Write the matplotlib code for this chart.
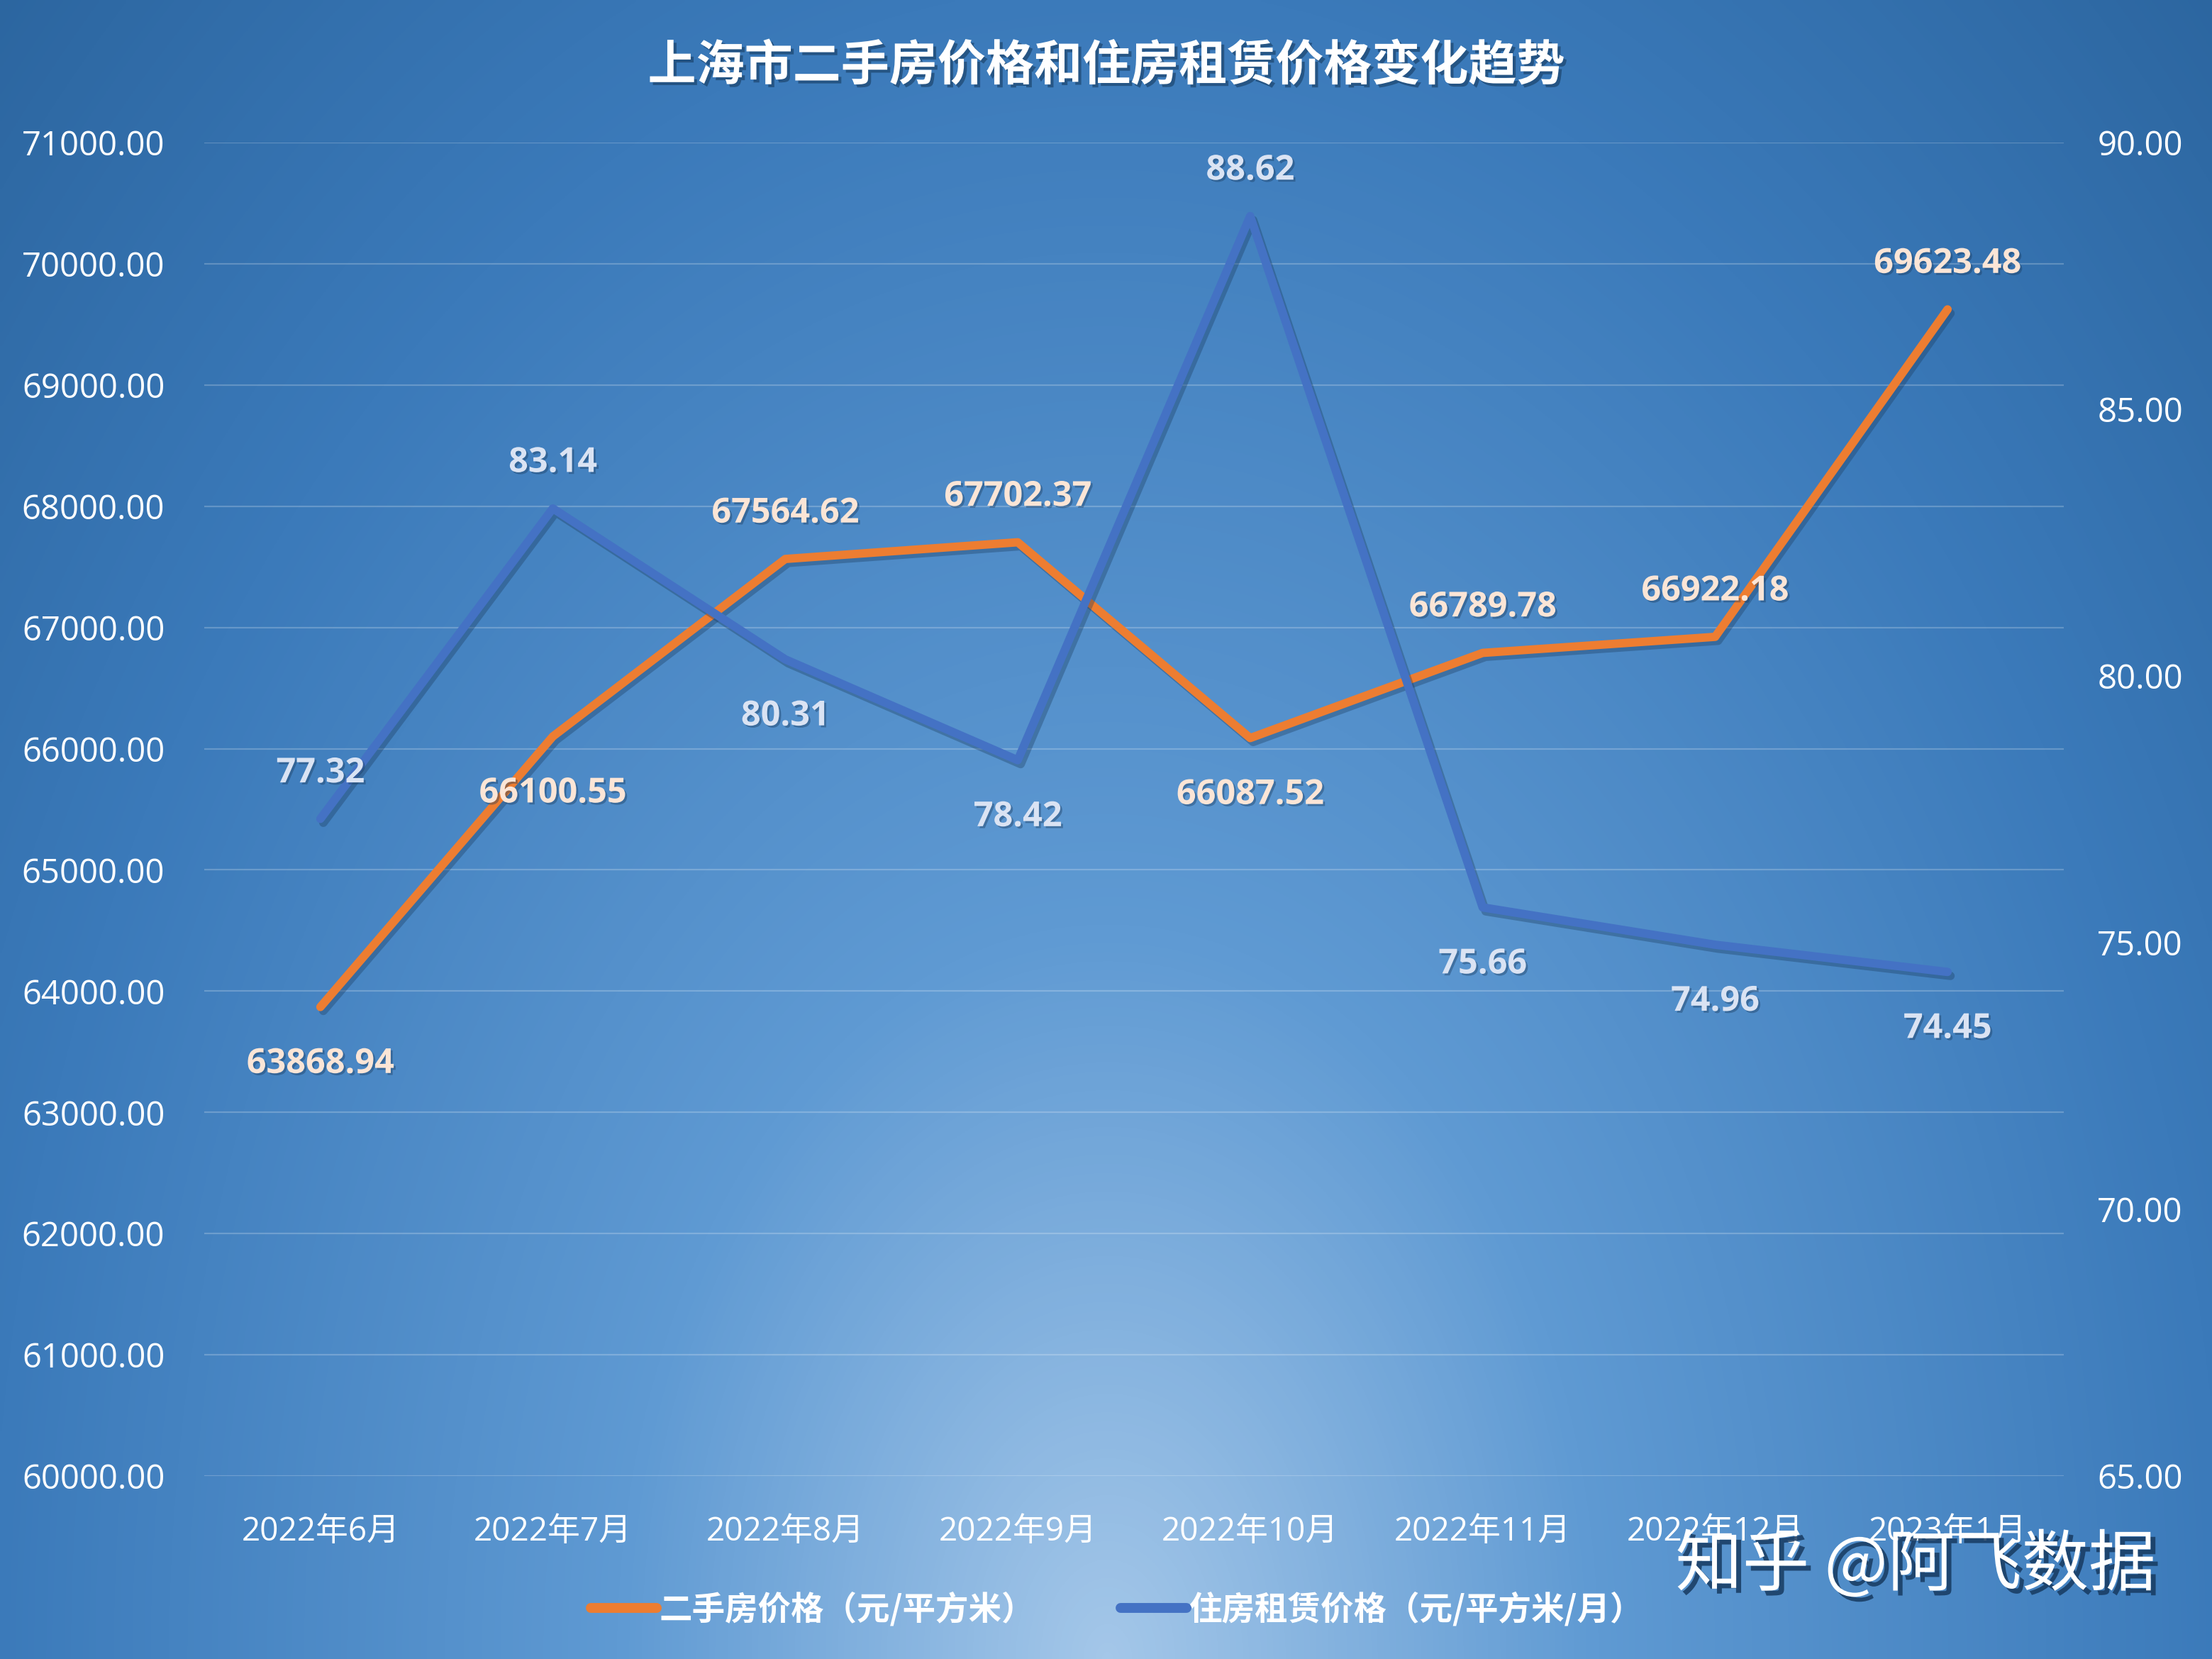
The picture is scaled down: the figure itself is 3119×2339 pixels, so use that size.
import numpy as np
import matplotlib
matplotlib.use("Agg")
import matplotlib.pyplot as plt
import matplotlib.patheffects as pe
from matplotlib.colors import LinearSegmentedColormap
from matplotlib.lines import Line2D

plt.rcParams['font.family'] = ['Open Sans', 'Noto Sans CJK SC', 'DejaVu Sans']

# data
months = ['2022年6月', '2022年7月', '2022年8月', '2022年9月',
          '2022年10月', '2022年11月', '2022年12月', '2023年1月']
house_price = [63868.94, 66100.55, 67564.62, 67702.37,
               66087.52, 66789.78, 66922.18, 69623.48]
rent_price = [77.32, 83.14, 80.31, 78.42, 88.62, 75.66, 74.96, 74.45]
# label above (+1) or below (-1) the point
house_label_side = [-1, -1, 1, 1, -1, 1, 1, 1]
rent_label_side = [1, 1, -1, -1, 1, -1, -1, -1]

title = '上海市二手房价格和住房租赁价格变化趋势'
house_name = '二手房价格（元/平方米）'
rent_name = '住房租赁价格（元/平方米/月）'

ORANGE = '#ED7D31'
BLUE = '#4472C4'

fig = plt.figure(figsize=(31.19, 23.39), dpi=100)

# radial gradient background, lightest at bottom centre
bg = fig.add_axes([0, 0, 1, 1], zorder=-10)
h, w = 470, 624
yy, xx = np.mgrid[0:h, 0:w]
r = np.sqrt(((xx - w / 2) / (w / 2)) ** 2 + ((yy - h) / h) ** 2)
cmap = LinearSegmentedColormap.from_list(
    'bg', [(0.0, '#a4c7e9'), (0.31, '#5f9ad3'), (0.71, '#3b7aba'), (1.0, '#2c66a0')])
bg.imshow(r / 1.42, cmap=cmap, vmin=0, vmax=1, aspect='auto', interpolation='bilinear')
bg.axis('off')

ax = fig.add_axes([0.0923, 0.1103, 0.8407, 0.8038])
ax.set_facecolor('none')
ax2 = ax.twinx()

x = np.arange(len(months))
shadow = [pe.SimpleLineShadow(offset=(3, -4), shadow_color='#1a3a5c', alpha=0.35),
          pe.Normal()]

ax.plot(x, house_price, color=ORANGE, lw=8.5, solid_capstyle='round',
        solid_joinstyle='round', path_effects=shadow, zorder=3)
ax2.plot(x, rent_price, color=BLUE, lw=8.5, solid_capstyle='round',
         solid_joinstyle='round', path_effects=shadow, zorder=3)

ax.set_xlim(-0.5, len(months) - 0.5)
ax.set_ylim(60000, 71000)
ax.set_yticks(np.arange(60000, 71001, 1000))
ax2.set_ylim(65, 90)
ax2.set_yticks(np.arange(65, 90.1, 5))
ax.yaxis.set_major_formatter(matplotlib.ticker.FormatStrFormatter('%.2f'))
ax2.yaxis.set_major_formatter(matplotlib.ticker.FormatStrFormatter('%.2f'))
ax.set_xticks(x)
ax.set_xticklabels(months)

ax.grid(axis='y', color='white', alpha=0.22, lw=1.6)
ax.set_axisbelow(True)
for a in (ax, ax2):
    for s in a.spines.values():
        s.set_visible(False)
ax.tick_params(axis='y', length=0, labelsize=34, labelcolor='white', pad=40)
ax.tick_params(axis='x', length=0, labelsize=33, labelcolor='white', pad=40)
ax2.tick_params(axis='y', length=0, labelsize=34, labelcolor='white', pad=34)

txt_shadow = [pe.withSimplePatchShadow(offset=(2, -2), shadow_rgbFace='#1a3a5c', alpha=0.4)]
for i, (v, s) in enumerate(zip(house_price, house_label_side)):
    ax.annotate(f'{v:.2f}', (i, v), xytext=(0, 52 * s - 6), textcoords='offset points',
                ha='center', va='center', fontsize=35, fontweight='bold',
                color='#FBE5D6', path_effects=txt_shadow, zorder=5)
for i, (v, s) in enumerate(zip(rent_price, rent_label_side)):
    ax2.annotate(f'{v:.2f}', (i, v), xytext=(0, 52 * s - 6), textcoords='offset points',
                 ha='center', va='center', fontsize=35, fontweight='bold',
                 color='#DAE3F3', path_effects=txt_shadow, zorder=5)

fig.text(0.5, 0.960, title, ha='center', va='center', fontsize=49,
         fontweight='bold', color='white', family=['Noto Sans CJK SC'],
         path_effects=[pe.withSimplePatchShadow(offset=(3, -3), shadow_rgbFace='#10304f', alpha=0.5)])

handles = [Line2D([], [], color=ORANGE, lw=10, solid_capstyle='round'),
           Line2D([], [], color=BLUE, lw=10, solid_capstyle='round')]
leg = fig.legend(handles, [house_name, rent_name], loc='center',
                 bbox_to_anchor=(0.505, 0.030), ncol=2, frameon=False,
                 handlelength=2.0, handletextpad=0.08, columnspacing=2.6,
                 prop={'family': ['Noto Sans CJK SC'], 'weight': 'bold', 'size': 33.5})
for t in leg.get_texts():
    t.set_color('white')

fig.text(0.866, 0.056, '知乎 @阿飞数据', ha='center', va='center', fontsize=68,
         color='white', family=['Noto Sans CJK SC'],
         path_effects=[pe.withSimplePatchShadow(offset=(5, -5), shadow_rgbFace='#173a60', alpha=0.85)])

fig.savefig('out.png', dpi=100)
